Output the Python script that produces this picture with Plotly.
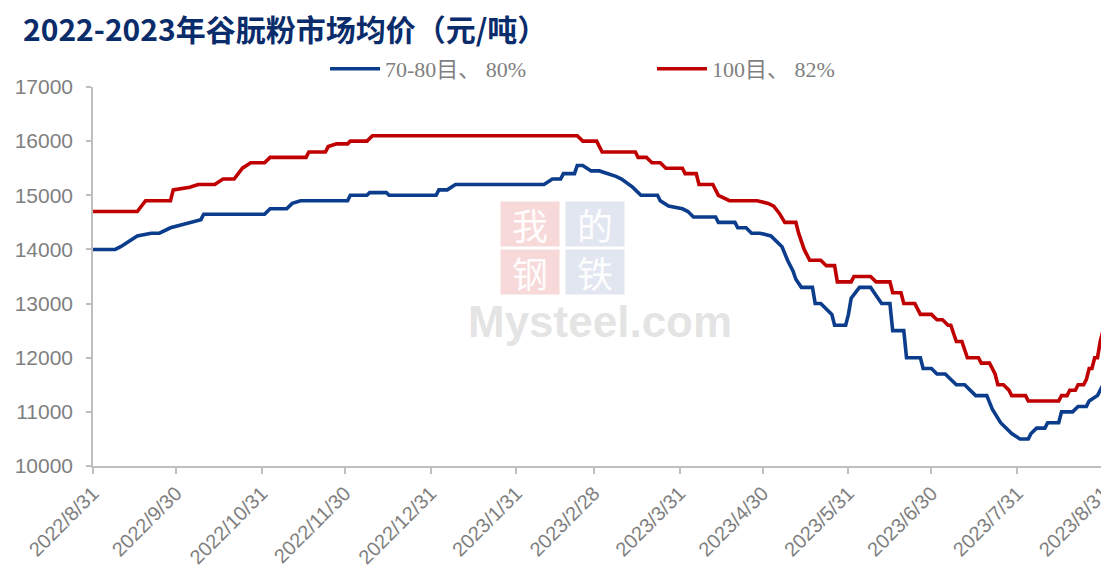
import plotly.graph_objects as go

# ---- data ----
blue_name = "70-80目、 80%"
blue_dates = ["2022-08-31", "2022-09-08", "2022-09-10", "2022-09-13", "2022-09-16", "2022-09-21",
              "2022-09-24", "2022-09-28", "2022-10-02", "2022-10-09", "2022-10-10", "2022-11-01",
              "2022-11-03", "2022-11-09", "2022-11-11", "2022-11-14", "2022-12-01", "2022-12-02",
              "2022-12-08", "2022-12-09", "2022-12-15", "2022-12-16", "2023-01-02", "2023-01-03",
              "2023-01-06", "2023-01-09", "2023-02-10", "2023-02-13", "2023-02-16", "2023-02-17",
              "2023-02-21", "2023-02-22", "2023-02-24", "2023-02-27", "2023-03-02", "2023-03-05",
              "2023-03-06", "2023-03-08", "2023-03-10", "2023-03-14", "2023-03-17", "2023-03-23",
              "2023-03-24", "2023-03-27", "2023-04-01", "2023-04-03", "2023-04-05", "2023-04-13",
              "2023-04-14", "2023-04-20", "2023-04-21", "2023-04-24", "2023-04-26", "2023-04-29",
              "2023-05-03", "2023-05-05", "2023-05-07", "2023-05-09", "2023-05-11", "2023-05-12",
              "2023-05-14", "2023-05-18", "2023-05-19", "2023-05-21", "2023-05-23", "2023-05-25",
              "2023-05-26", "2023-05-30", "2023-05-31", "2023-06-01", "2023-06-04", "2023-06-08",
              "2023-06-10", "2023-06-12", "2023-06-15", "2023-06-16", "2023-06-20", "2023-06-21",
              "2023-06-26", "2023-06-27", "2023-06-30", "2023-07-02", "2023-07-05", "2023-07-07",
              "2023-07-09", "2023-07-12", "2023-07-14", "2023-07-16", "2023-07-20", "2023-07-22",
              "2023-07-25", "2023-07-27", "2023-07-29", "2023-08-01", "2023-08-04", "2023-08-05",
              "2023-08-07", "2023-08-10", "2023-08-11", "2023-08-15", "2023-08-16", "2023-08-20",
              "2023-08-22", "2023-08-25", "2023-08-26", "2023-08-29", "2023-08-31"]
blue_values = [14000, 14000, 14050, 14150, 14250, 14300,
               14300, 14400, 14450, 14550, 14650, 14650,
               14750, 14750, 14850, 14900, 14900, 15000,
               15000, 15050, 15050, 15000, 15000, 15100,
               15100, 15200, 15200, 15300, 15300, 15400,
               15400, 15550, 15550, 15450, 15450, 15400,
               15400, 15350, 15300, 15150, 15000, 15000,
               14900, 14800, 14750, 14700, 14600, 14600,
               14500, 14500, 14400, 14400, 14300, 14300,
               14250, 14150, 14050, 13800, 13600, 13450,
               13300, 13300, 13000, 13000, 12900, 12800,
               12600, 12600, 12800, 13100, 13300, 13300,
               13150, 13000, 13000, 12500, 12500, 12000,
               12000, 11800, 11800, 11700, 11700, 11600,
               11500, 11500, 11400, 11300, 11300, 11050,
               10800, 10700, 10600, 10500, 10500, 10600,
               10700, 10700, 10800, 10800, 11000, 11000,
               11100, 11100, 11200, 11300, 11500]

red_name = "100目、 82%"
red_dates = ["2022-08-31", "2022-09-16", "2022-09-19", "2022-09-28", "2022-09-29", "2022-10-05",
             "2022-10-08", "2022-10-14", "2022-10-17", "2022-10-21", "2022-10-24", "2022-10-27",
             "2022-11-01", "2022-11-03", "2022-11-16", "2022-11-17", "2022-11-23", "2022-11-24",
             "2022-11-27", "2022-12-01", "2022-12-02", "2022-12-08", "2022-12-10", "2023-02-22",
             "2023-02-24", "2023-03-01", "2023-03-03", "2023-03-15", "2023-03-16", "2023-03-19",
             "2023-03-21", "2023-03-24", "2023-03-26", "2023-04-01", "2023-04-02", "2023-04-06",
             "2023-04-07", "2023-04-12", "2023-04-14", "2023-04-18", "2023-04-28", "2023-05-02",
             "2023-05-04", "2023-05-06", "2023-05-08", "2023-05-12", "2023-05-13", "2023-05-15",
             "2023-05-17", "2023-05-21", "2023-05-23", "2023-05-26", "2023-05-27", "2023-06-01",
             "2023-06-02", "2023-06-08", "2023-06-10", "2023-06-15", "2023-06-16", "2023-06-19",
             "2023-06-20", "2023-06-24", "2023-06-26", "2023-06-30", "2023-07-02", "2023-07-04",
             "2023-07-06", "2023-07-07", "2023-07-09", "2023-07-11", "2023-07-13", "2023-07-17",
             "2023-07-18", "2023-07-21", "2023-07-22", "2023-07-23", "2023-07-24", "2023-07-26",
             "2023-07-28", "2023-07-29", "2023-08-03", "2023-08-04", "2023-08-15", "2023-08-16",
             "2023-08-18", "2023-08-19", "2023-08-21", "2023-08-22", "2023-08-24", "2023-08-25",
             "2023-08-26", "2023-08-27", "2023-08-28", "2023-08-29", "2023-08-30", "2023-08-31"]
red_values = [14700, 14700, 14900, 14900, 15100, 15150,
              15200, 15200, 15300, 15300, 15500, 15600,
              15600, 15700, 15700, 15800, 15800, 15900,
              15950, 15950, 16000, 16000, 16100, 16100,
              16000, 16000, 15800, 15800, 15700, 15700,
              15600, 15600, 15500, 15500, 15400, 15400,
              15200, 15200, 15000, 14900, 14900, 14850,
              14800, 14670, 14500, 14500, 14300, 14000,
              13800, 13800, 13700, 13700, 13400, 13400,
              13500, 13500, 13400, 13400, 13200, 13200,
              13000, 13000, 12800, 12800, 12700, 12700,
              12600, 12600, 12300, 12300, 12000, 12000,
              11900, 11900, 11800, 11700, 11500, 11500,
              11400, 11300, 11300, 11200, 11200, 11300,
              11300, 11400, 11400, 11500, 11500, 11600,
              11800, 11800, 12000, 12000, 12300, 12500]

tick_dates = ["2022-08-31", "2022-09-30", "2022-10-31", "2022-11-30", "2022-12-31", "2023-01-31",
              "2023-02-28", "2023-03-31", "2023-04-30", "2023-05-31", "2023-06-30", "2023-07-31",
              "2023-08-31"]
tick_labels = ["2022/8/31", "2022/9/30", "2022/10/31", "2022/11/30", "2022/12/31", "2023/1/31",
               "2023/2/28", "2023/3/31", "2023/4/30", "2023/5/31", "2023/6/30", "2023/7/31",
               "2023/8/31"]
y_ticks = [10000, 11000, 12000, 13000, 14000, 15000, 16000, 17000]

title_text = "2022-2023年谷朊粉市场均价（元/吨）"

# ---- figure ----
W, H = 1109, 578
BLUE = "#0B3D8C"
RED = "#C00000"
GRAY_TXT = "#7F7F7F"
AXIS = "#BFBFBF"

fig = go.Figure()
fig.add_trace(go.Scatter(x=blue_dates, y=blue_values, name=blue_name, mode="lines",
                         line=dict(color=BLUE, width=3.6)))
fig.add_trace(go.Scatter(x=red_dates, y=red_values, name=red_name, mode="lines",
                         line=dict(color=RED, width=3.6)))

# faint watermark
wm = [("我", "rgba(225,80,80,0.22)", 0.4327, 0.638), ("的", "rgba(120,140,190,0.22)", 0.4970, 0.638),
      ("钢", "rgba(225,80,80,0.22)", 0.4327, 0.512), ("铁", "rgba(120,140,190,0.22)", 0.4970, 0.512)]
for ch, bg, xx, yy in wm:
    fig.add_annotation(text=ch, x=xx, y=yy, xref="paper", yref="paper", showarrow=False,
                       font=dict(family="Noto Sans CJK SC", size=36, color="rgba(255,255,255,0.95)"),
                       bgcolor=bg, width=58, height=44, borderpad=0)
fig.add_annotation(text="<b>Mysteel.com</b>", x=0.502, y=0.382, xref="paper", yref="paper",
                   showarrow=False, font=dict(family="Liberation Sans", size=44,
                                              color="rgba(205,205,205,0.55)"))

# the page adds an 8px body margin, so figure coordinates are page coordinates minus 8
fig.update_layout(
    width=W, height=H,
    margin=dict(l=85, r=14, t=79, b=120, autoexpand=False),
    paper_bgcolor="white", plot_bgcolor="white",
    title=dict(text="<b>" + title_text + "</b>", x=15 / W, xref="container", xanchor="left",
               y=1 - 22 / H, yref="container", yanchor="middle",
               font=dict(family="Noto Sans CJK SC", size=30, color="#0A2C6B")),
    legend=dict(orientation="h", xref="container", yref="container",
                x=317 / W, xanchor="left", y=1 - 61 / H, yanchor="middle",
                entrywidth=262, entrywidthmode="pixels",
                font=dict(family="Liberation Serif, Noto Sans CJK SC", size=22, color=GRAY_TXT),
                itemwidth=50, bgcolor="rgba(0,0,0,0)"),
    showlegend=True,
)
fig.update_xaxes(type="date", range=["2022-08-31", "2023-08-31"],
                 tickvals=tick_dates, ticktext=tick_labels, tickangle=-45, automargin=False,
                 showline=True, linecolor=AXIS, linewidth=1.5,
                 ticks="outside", tickcolor=AXIS, ticklen=6, tickwidth=1.5,
                 showgrid=False, zeroline=False,
                 tickfont=dict(family="Liberation Sans", size=20, color=GRAY_TXT))
fig.update_yaxes(range=[10000, 17000], tickvals=y_ticks, tickformat="d", automargin=False,
                 showline=True, linecolor=AXIS, linewidth=1.5,
                 ticks="outside", tickcolor=AXIS, ticklen=5, tickwidth=1.5,
                 ticklabelstandoff=9,
                 showgrid=False, zeroline=False,
                 tickfont=dict(family="Liberation Sans", size=21, color=GRAY_TXT))

fig.write_html("out.html")
